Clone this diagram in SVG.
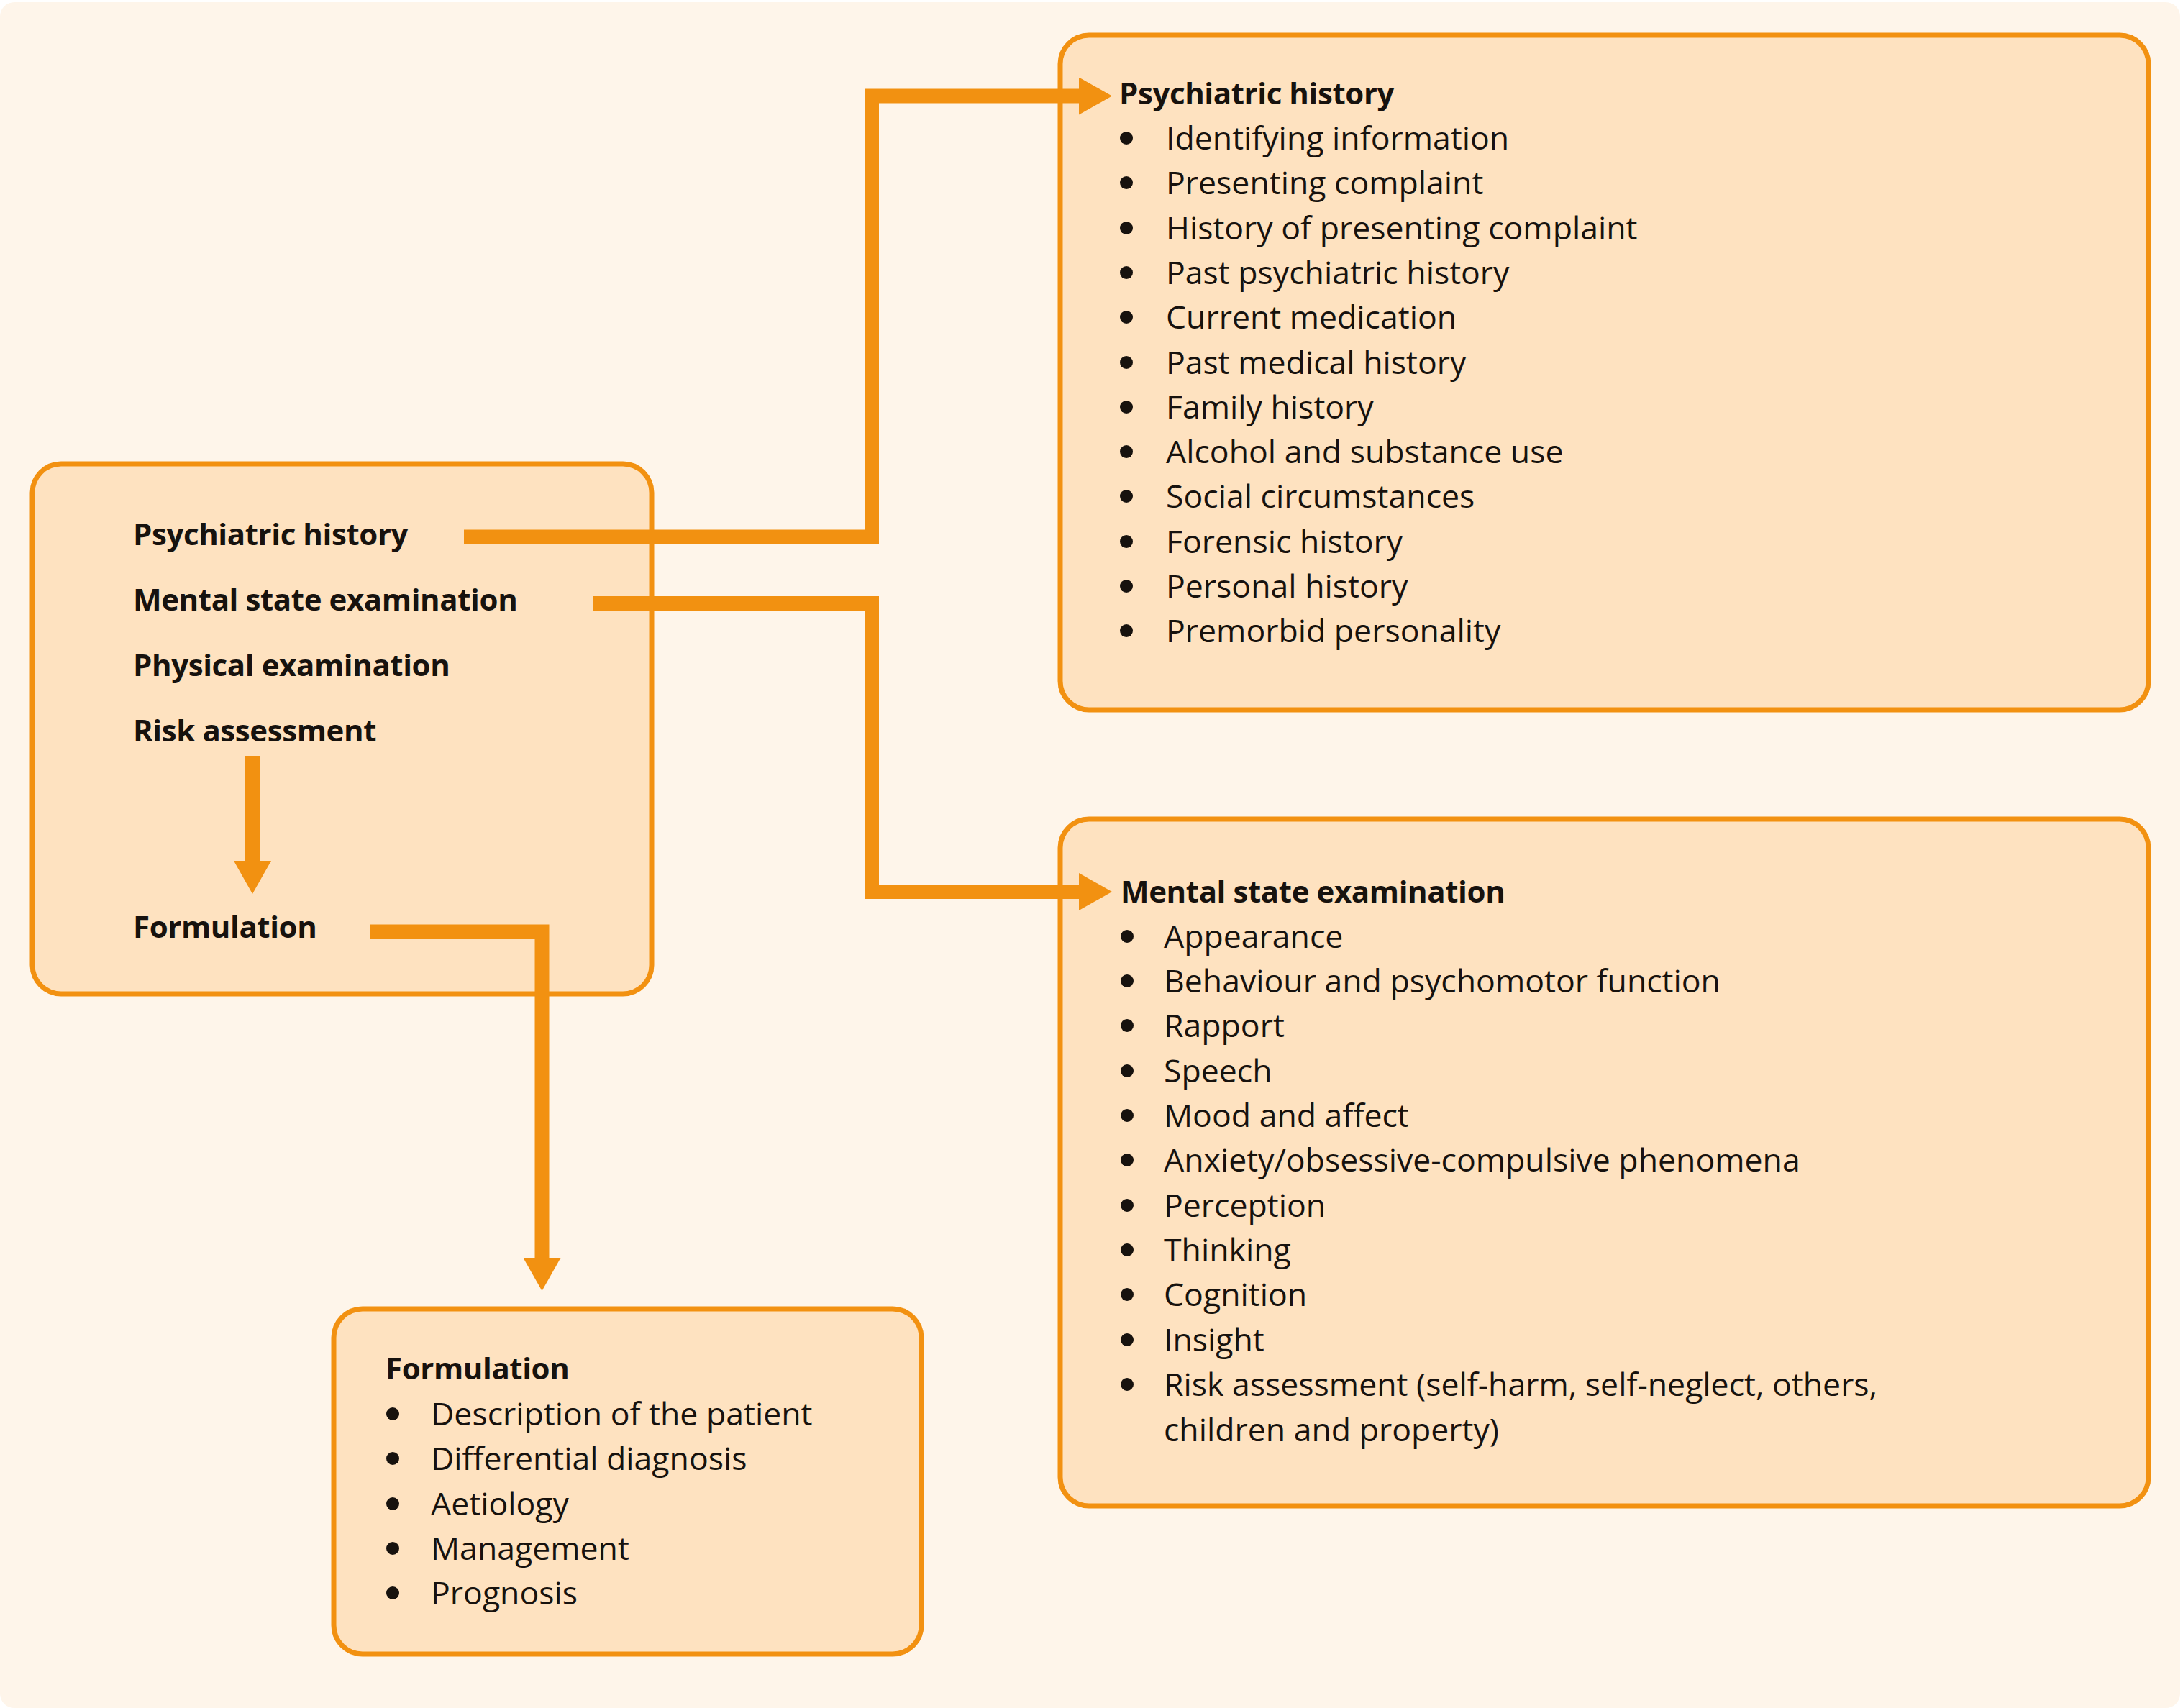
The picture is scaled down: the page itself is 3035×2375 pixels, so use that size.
<svg xmlns="http://www.w3.org/2000/svg" width="3035" height="2375" viewBox="0 0 3035 2375">
  <style>
    .box { fill: #FEE2C0; stroke: #F29111; stroke-width: 7; }
    .hd { font-family: "Open Sans", "Liberation Sans", sans-serif; font-weight: 700; font-size: 42px; letter-spacing: -0.4px; fill: #17120e; }
    .it { font-family: "Open Sans", "Liberation Sans", sans-serif; font-size: 44.6px; fill: #17120e; }
    .wire { fill: none; stroke: #F29111; stroke-width: 20; stroke-linejoin: miter; stroke-linecap: butt; marker-end: url(#head); }
    .dot { fill: #17120e; }
  </style>
  <defs>
    <marker id="head" markerUnits="userSpaceOnUse" markerWidth="46" markerHeight="52" viewBox="0 0 46 52" refX="0" refY="26" orient="auto">
      <path d="M0,0 L46,26 L0,52 z" fill="#F29111"/>
    </marker>
    <circle id="bullet" class="dot" r="9"/>
  </defs>

  <!-- page background -->
  <rect x="0" y="3" width="3031" height="2372" rx="20" fill="#FEF5EA"/>

  <!-- overview: the parts of the assessment -->
  <g id="overview">
    <rect class="box" x="45" y="645" width="861" height="737" rx="40"/>
    <text class="hd" x="185" y="758">Psychiatric history</text>
    <text class="hd" x="185" y="849">Mental state examination</text>
    <text class="hd" x="185" y="940">Physical examination</text>
    <text class="hd" x="185" y="1031">Risk assessment</text>
    <text class="hd" x="185" y="1304">Formulation</text>
  </g>

  <!-- psychiatric history detail -->
  <g id="psychiatric-history">
    <rect class="box" x="1474" y="49" width="1513" height="938" rx="40"/>
    <text class="hd" x="1556" y="145">Psychiatric history</text>
    <use href="#bullet" x="1566" y="192"/>
    <use href="#bullet" x="1566" y="254"/>
    <use href="#bullet" x="1566" y="317"/>
    <use href="#bullet" x="1566" y="379"/>
    <use href="#bullet" x="1566" y="441"/>
    <use href="#bullet" x="1566" y="504"/>
    <use href="#bullet" x="1566" y="566"/>
    <use href="#bullet" x="1566" y="628"/>
    <use href="#bullet" x="1566" y="690"/>
    <use href="#bullet" x="1566" y="753"/>
    <use href="#bullet" x="1566" y="815"/>
    <use href="#bullet" x="1566" y="877"/>
    <text class="it" x="1621" y="208">Identifying information</text>
    <text class="it" x="1621" y="270">Presenting complaint</text>
    <text class="it" x="1621" y="333">History of presenting complaint</text>
    <text class="it" x="1621" y="395">Past psychiatric history</text>
    <text class="it" x="1621" y="457">Current medication</text>
    <text class="it" x="1621" y="520">Past medical history</text>
    <text class="it" x="1621" y="582">Family history</text>
    <text class="it" x="1621" y="644">Alcohol and substance use</text>
    <text class="it" x="1621" y="706">Social circumstances</text>
    <text class="it" x="1621" y="769">Forensic history</text>
    <text class="it" x="1621" y="831">Personal history</text>
    <text class="it" x="1621" y="893">Premorbid personality</text>
  </g>

  <!-- mental state examination detail -->
  <g id="mental-state-examination">
    <rect class="box" x="1474" y="1139" width="1513" height="955" rx="40"/>
    <text class="hd" x="1558" y="1255">Mental state examination</text>
    <use href="#bullet" x="1567" y="1302"/>
    <use href="#bullet" x="1567" y="1364"/>
    <use href="#bullet" x="1567" y="1426"/>
    <use href="#bullet" x="1567" y="1489"/>
    <use href="#bullet" x="1567" y="1551"/>
    <use href="#bullet" x="1567" y="1613"/>
    <use href="#bullet" x="1567" y="1676"/>
    <use href="#bullet" x="1567" y="1738"/>
    <use href="#bullet" x="1567" y="1800"/>
    <use href="#bullet" x="1567" y="1863"/>
    <use href="#bullet" x="1567" y="1925"/>
    <text class="it" x="1618" y="1318">Appearance</text>
    <text class="it" x="1618" y="1380">Behaviour and psychomotor function</text>
    <text class="it" x="1618" y="1442">Rapport</text>
    <text class="it" x="1618" y="1505">Speech</text>
    <text class="it" x="1618" y="1567">Mood and affect</text>
    <text class="it" x="1618" y="1629">Anxiety/obsessive-compulsive phenomena</text>
    <text class="it" x="1618" y="1692">Perception</text>
    <text class="it" x="1618" y="1754">Thinking</text>
    <text class="it" x="1618" y="1816">Cognition</text>
    <text class="it" x="1618" y="1879">Insight</text>
    <text class="it" x="1618" y="1941">Risk assessment (self-harm, self-neglect, others,</text>
    <text class="it" x="1618" y="2004">children and property)</text>
  </g>

  <!-- formulation detail -->
  <g id="formulation">
    <rect class="box" x="464" y="1820" width="817" height="480" rx="40"/>
    <text class="hd" x="536" y="1918">Formulation</text>
    <use href="#bullet" x="546" y="1966"/>
    <use href="#bullet" x="546" y="2028"/>
    <use href="#bullet" x="546" y="2091"/>
    <use href="#bullet" x="546" y="2153"/>
    <use href="#bullet" x="546" y="2215"/>
    <text class="it" x="599" y="1982">Description of the patient</text>
    <text class="it" x="599" y="2044">Differential diagnosis</text>
    <text class="it" x="599" y="2107">Aetiology</text>
    <text class="it" x="599" y="2169">Management</text>
    <text class="it" x="599" y="2231">Prognosis</text>
  </g>

  <!-- connectors -->
  <g id="connectors">
    <path class="wire" d="M645,746.5 H1212 V133.5 H1500"/>
    <path class="wire" d="M824,839 H1212 V1240 H1500"/>
    <path class="wire" d="M514,1295.5 H753.5 V1749"/>
    <path class="wire" d="M351,1051 V1197"/>
  </g>
</svg>
